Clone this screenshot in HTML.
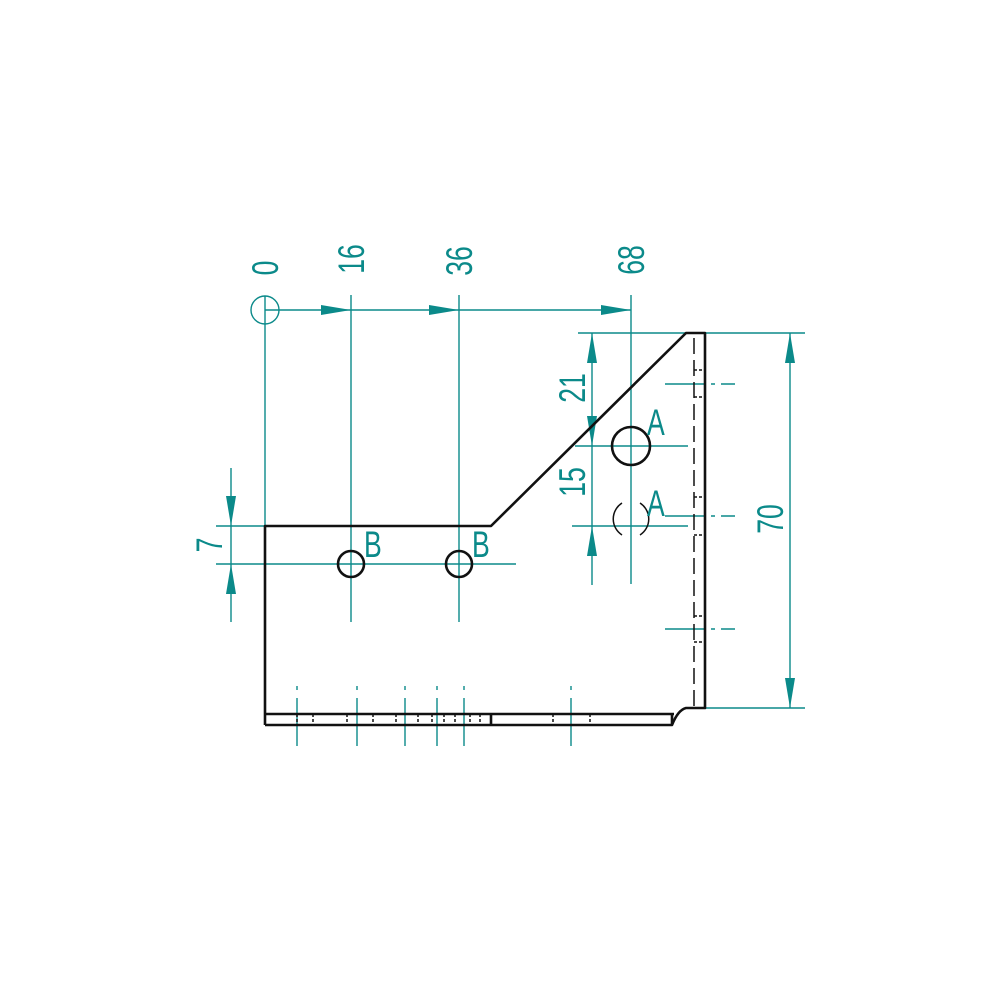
<!DOCTYPE html>
<html><head><meta charset="utf-8"><style>
html,body{margin:0;padding:0;background:#fff}
svg{display:block}
text{font-family:"Liberation Sans",sans-serif;fill:#0b8a8a}
</style></head><body>
<svg width="1000" height="1000" viewBox="0 0 1000 1000" xmlns="http://www.w3.org/2000/svg">
<g stroke="#0b8a8a" stroke-width="1.4" fill="none">
  <circle cx="265" cy="310" r="14"/>
  <line x1="265" y1="296" x2="265" y2="526"/>
  <line x1="265" y1="310" x2="631" y2="310"/>
  <line x1="351" y1="295" x2="351" y2="622"/>
  <line x1="459" y1="295" x2="459" y2="622"/>
  <line x1="631" y1="295" x2="631" y2="584"/>
  <line x1="216" y1="526" x2="265" y2="526"/>
  <line x1="216" y1="564" x2="516" y2="564"/>
  <line x1="231" y1="468" x2="231" y2="622"/>
  <line x1="578" y1="333" x2="805" y2="333"/>
  <line x1="575" y1="446" x2="688" y2="446"/>
  <line x1="572" y1="526" x2="688" y2="526"/>
  <line x1="592" y1="333" x2="592" y2="585"/>
  <line x1="705" y1="708" x2="805" y2="708"/>
  <line x1="790" y1="333" x2="790" y2="708"/>
  <g stroke-dasharray="40 6 4 6">
    <line x1="665" y1="384" x2="735" y2="384"/>
    <line x1="665" y1="516" x2="735" y2="516"/>
    <line x1="665" y1="629" x2="735" y2="629"/>
  </g>
  <g stroke-dasharray="4 8 48 8 4 100">
    <line x1="297" y1="686" x2="297" y2="754"/>
    <line x1="357" y1="686" x2="357" y2="754"/>
    <line x1="405" y1="686" x2="405" y2="754"/>
    <line x1="437" y1="686" x2="437" y2="754"/>
    <line x1="464" y1="686" x2="464" y2="754"/>
    <line x1="571" y1="686" x2="571" y2="754"/>
  </g>
</g>
<g fill="#0b8a8a">
  <polygon points="351,310 321,305 321,315"/>
  <polygon points="459,310 429,305 429,315"/>
  <polygon points="631,310 601,305 601,315"/>
  <polygon points="231,526 226,496 236,496"/>
  <polygon points="231,564 226,594 236,594"/>
  <polygon points="592,333 587,363 597,363"/>
  <polygon points="592,446 587,416 597,416"/>
  <polygon points="592,526 587,556 597,556"/>
  <polygon points="790,333 785,363 795,363"/>
  <polygon points="790,708 785,678 795,678"/>
</g>
<g stroke="#111" stroke-width="2.6" fill="none" stroke-linejoin="round">
  <path d="M265,725 L265,526 L491,526 L686,333 L705,333 L705,708 L686,708 Q678,710 672,725 L265,725"/>
  <path d="M265,714 L674,714 M672,714 L672,725 M491,714 L491,725"/>
  <circle cx="351" cy="564" r="13"/>
  <circle cx="459" cy="564" r="13"/>
  <circle cx="631" cy="446" r="19"/>
</g>
<g stroke="#111" stroke-width="1.5" fill="none">
  <path d="M622,503 A19,19 0 0 0 622,535"/>
  <path d="M640,503 A19,19 0 0 1 640,535"/>
  <line x1="694" y1="338" x2="694" y2="708" stroke-dasharray="16 6"/>
  <path d="M694,370 L705,370 M694,397 L705,397 M694,497 L705,497 M694,535 L705,535 M694,616 L705,616 M694,642 L705,642" stroke-dasharray="3 2"/>
  <path d="M297,714 V725 M313,714 V725 M347,714 V725 M373,714 V725 M396,714 V725 M418,714 V725 M432,714 V725 M444,714 V725 M455,714 V725 M470,714 V725 M480,714 V725 M553,714 V725 M590,714 V725" stroke-dasharray="3 2"/>
</g>
<g font-size="37">
  <text transform="translate(278,268) rotate(-90) scale(0.72,1)" text-anchor="middle">0</text>
  <text transform="translate(364,259) rotate(-90) scale(0.72,1)" text-anchor="middle">16</text>
  <text transform="translate(472,261) rotate(-90) scale(0.72,1)" text-anchor="middle">36</text>
  <text transform="translate(644,260) rotate(-90) scale(0.72,1)" text-anchor="middle">68</text>
  <text transform="translate(585,388) rotate(-90) scale(0.72,1)" text-anchor="middle">21</text>
  <text transform="translate(585,482) rotate(-90) scale(0.72,1)" text-anchor="middle">15</text>
  <text transform="translate(222,545) rotate(-90) scale(0.72,1)" text-anchor="middle">7</text>
  <text transform="translate(783,519) rotate(-90) scale(0.72,1)" text-anchor="middle">70</text>
  <text transform="translate(647,435) scale(0.72,1)">A</text>
  <text transform="translate(647,516) scale(0.72,1)">A</text>
  <text transform="translate(364,557) scale(0.72,1)">B</text>
  <text transform="translate(472,557) scale(0.72,1)">B</text>
</g>
</svg>
</body></html>
